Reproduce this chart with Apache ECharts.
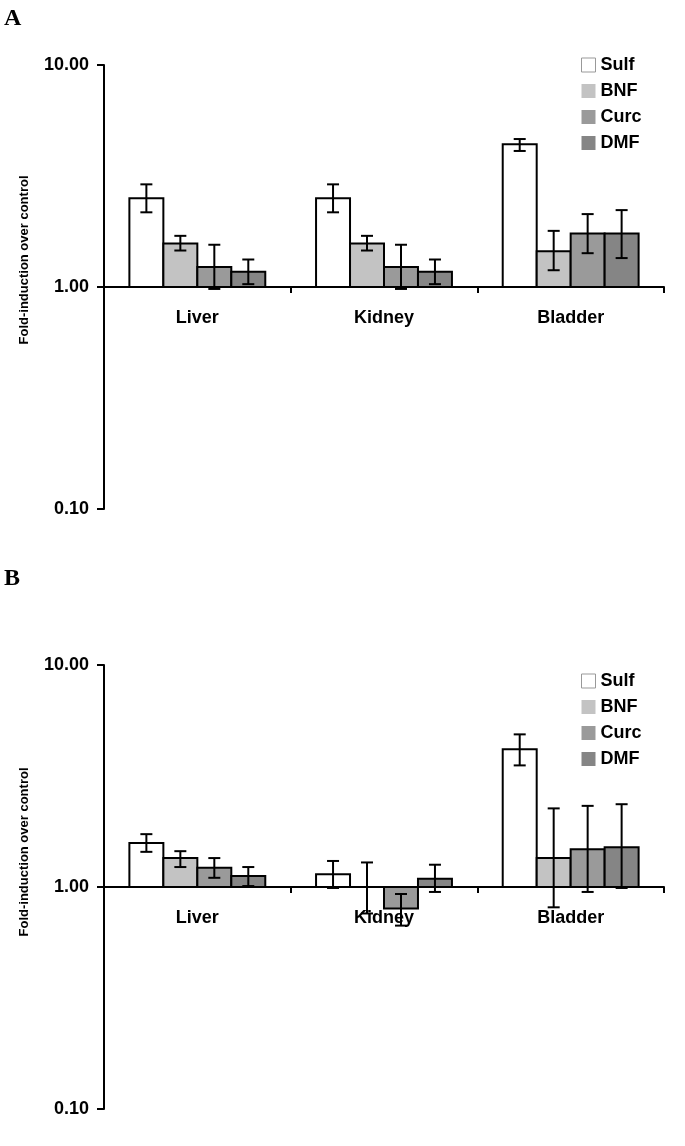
<!DOCTYPE html>
<html><head><meta charset="utf-8">
<script src="https://cdn.jsdelivr.net/npm/echarts@6/dist/echarts.min.js"></script>
<style>html,body{margin:0;padding:0;background:#fff}#c{width:685px;height:1146px}</style>
</head><body><div id="c"></div>
<script>
// ---- data ----
const categories = ['Liver', 'Kidney', 'Bladder'];
const seriesNames = ['Sulf', 'BNF', 'Curc', 'DMF'];
const yTickLabels = ['0.10', '1.00', '10.00'];
const yAxisTitle = 'Fold-induction over control';

// Panel A: mean, lower error, upper error (per category)
const A_Sulf = [2.51, 2.51, 4.39];
const A_Sulf_lo = [2.17, 2.17, 4.10];
const A_Sulf_hi = [2.90, 2.90, 4.64];
const A_BNF = [1.57, 1.57, 1.45];
const A_BNF_lo = [1.46, 1.46, 1.19];
const A_BNF_hi = [1.70, 1.70, 1.79];
const A_Curc = [1.23, 1.23, 1.74];
const A_Curc_lo = [0.98, 0.98, 1.42];
const A_Curc_hi = [1.55, 1.55, 2.13];
const A_DMF = [1.17, 1.17, 1.74];
const A_DMF_lo = [1.03, 1.03, 1.35];
const A_DMF_hi = [1.33, 1.33, 2.22];

// Panel B
const B_Sulf = [1.58, 1.14, 4.17];
const B_Sulf_lo = [1.44, 0.99, 3.53];
const B_Sulf_hi = [1.73, 1.31, 4.87];
const B_BNF = [1.35, 1.00, 1.35];
const B_BNF_lo = [1.23, 0.76, 0.81];
const B_BNF_hi = [1.45, 1.29, 2.26];
const B_Curc = [1.22, 0.80, 1.48];
const B_Curc_lo = [1.10, 0.67, 0.95];
const B_Curc_hi = [1.35, 0.93, 2.32];
const B_DMF = [1.12, 1.09, 1.51];
const B_DMF_lo = [1.01, 0.95, 0.99];
const B_DMF_hi = [1.23, 1.26, 2.36];

const panelA = [[A_Sulf, A_Sulf_lo, A_Sulf_hi], [A_BNF, A_BNF_lo, A_BNF_hi], [A_Curc, A_Curc_lo, A_Curc_hi], [A_DMF, A_DMF_lo, A_DMF_hi]];
const panelB = [[B_Sulf, B_Sulf_lo, B_Sulf_hi], [B_BNF, B_BNF_lo, B_BNF_hi], [B_Curc, B_Curc_lo, B_Curc_hi], [B_DMF, B_DMF_lo, B_DMF_hi]];

// ---- style ----
const fills = ['#ffffff', '#c3c3c3', '#9a9a9a', '#858585'];
const FONT = 'Liberation Sans, Arial, sans-serif';

const chart = echarts.init(document.getElementById('c'), null, {renderer: 'canvas'});

function makeRender(si) {
  return function (params, api) {
    const cat = api.value(0), v = api.value(1), lo = api.value(2), hi = api.value(3);
    const band = api.size([1, 0])[0];
    const bw = band * 0.182;
    const c = api.coord([cat, v]);
    const base = api.coord([cat, 1]);
    const x = c[0] - 2 * bw + si * bw;
    const top = Math.min(c[1], base[1]);
    const h = Math.abs(c[1] - base[1]);
    const pLo = api.coord([cat, lo])[1];
    const pHi = api.coord([cat, hi])[1];
    const cx = x + bw / 2;
    const cap = 6;
    const ls = {stroke: '#000', lineWidth: 2};
    return {
      type: 'group',
      children: [
        {type: 'rect', shape: {x: x, y: top, width: bw, height: h}, style: {fill: fills[si], stroke: '#000', lineWidth: 2}},
        {type: 'line', shape: {x1: cx, y1: pHi, x2: cx, y2: pLo}, style: ls},
        {type: 'line', shape: {x1: cx - cap, y1: pHi, x2: cx + cap, y2: pHi}, style: ls},
        {type: 'line', shape: {x1: cx - cap, y1: pLo, x2: cx + cap, y2: pLo}, style: ls}
      ]
    };
  };
}

function buildSeries(panel, gi) {
  return panel.map((arrs, si) => ({
    type: 'custom',
    name: seriesNames[si],
    xAxisIndex: gi,
    yAxisIndex: gi,
    itemStyle: {color: fills[si]},
    encode: {x: 0, y: 1},
    renderItem: makeRender(si),
    data: categories.map((_, ci) => [ci, arrs[0][ci], arrs[1][ci], arrs[2][ci]]),
    z: 2
  }));
}

const grids = [
  {left: 104, right: 21, top: 65, height: 444},
  {left: 104, right: 21, top: 665, height: 444}
];

function xAx(gi) {
  return {
    type: 'category', gridIndex: gi, data: categories,
    position: 'bottom', offset: -222,
    axisLine: {show: true, lineStyle: {color: '#000', width: 2}},
    axisTick: {show: true, length: 6, lineStyle: {color: '#000', width: 2}},
    axisLabel: {margin: 22, color: '#000', fontSize: 18, fontWeight: 'bold', fontFamily: FONT},
    splitLine: {show: false}
  };
}
function yAx(gi) {
  return {
    type: 'log', logBase: 10, gridIndex: gi, min: 0.1, max: 10,
    axisLine: {show: true, lineStyle: {color: '#000', width: 2}},
    axisTick: {show: true, length: 7, lineStyle: {color: '#000', width: 2}},
    axisLabel: {
      margin: 15, color: '#000', fontSize: 18, fontWeight: 'bold', fontFamily: FONT,
      formatter: function (v) {
        const e = Math.round(Math.log10(v));
        return yTickLabels[e + 1];
      }
    },
    splitLine: {show: false}
  };
}

function legendFor(top) {
  return {
    orient: 'vertical', left: 581, top: top, padding: 0,
    itemWidth: 14, itemHeight: 14, itemGap: 8, icon: 'rect',
    selectedMode: false,
    textStyle: {fontSize: 18, fontWeight: 'bold', color: '#000', fontFamily: FONT},
    data: seriesNames.map((n, i) => ({
      name: n,
      itemStyle: i === 0 ? {color: '#fff', borderColor: '#999', borderWidth: 1} : {color: fills[i], borderWidth: 0}
    }))
  };
}

const option = {
  animation: false,
  backgroundColor: '#fff',
  grid: grids,
  xAxis: [xAx(0), xAx(1)],
  yAxis: [yAx(0), yAx(1)],
  legend: [legendFor(56), legendFor(672)],
  series: buildSeries(panelA, 0).concat(buildSeries(panelB, 1)),
  graphic: [
    {type: 'text', left: 4, top: 7, style: {text: 'A', font: 'bold 24px "Liberation Serif", "Times New Roman", serif', fill: '#000'}},
    {type: 'text', left: 4, top: 567, style: {text: 'B', font: 'bold 24px "Liberation Serif", "Times New Roman", serif', fill: '#000'}},
    {type: 'text', x: 24, y: 260, rotation: Math.PI / 2, style: {text: yAxisTitle, font: 'bold 13px "Liberation Sans", Arial, sans-serif', fill: '#000', align: 'center', verticalAlign: 'middle'}},
    {type: 'text', x: 24, y: 852, rotation: Math.PI / 2, style: {text: yAxisTitle, font: 'bold 13px "Liberation Sans", Arial, sans-serif', fill: '#000', align: 'center', verticalAlign: 'middle'}}
  ]
};
chart.setOption(option);
</script>
</body></html>
